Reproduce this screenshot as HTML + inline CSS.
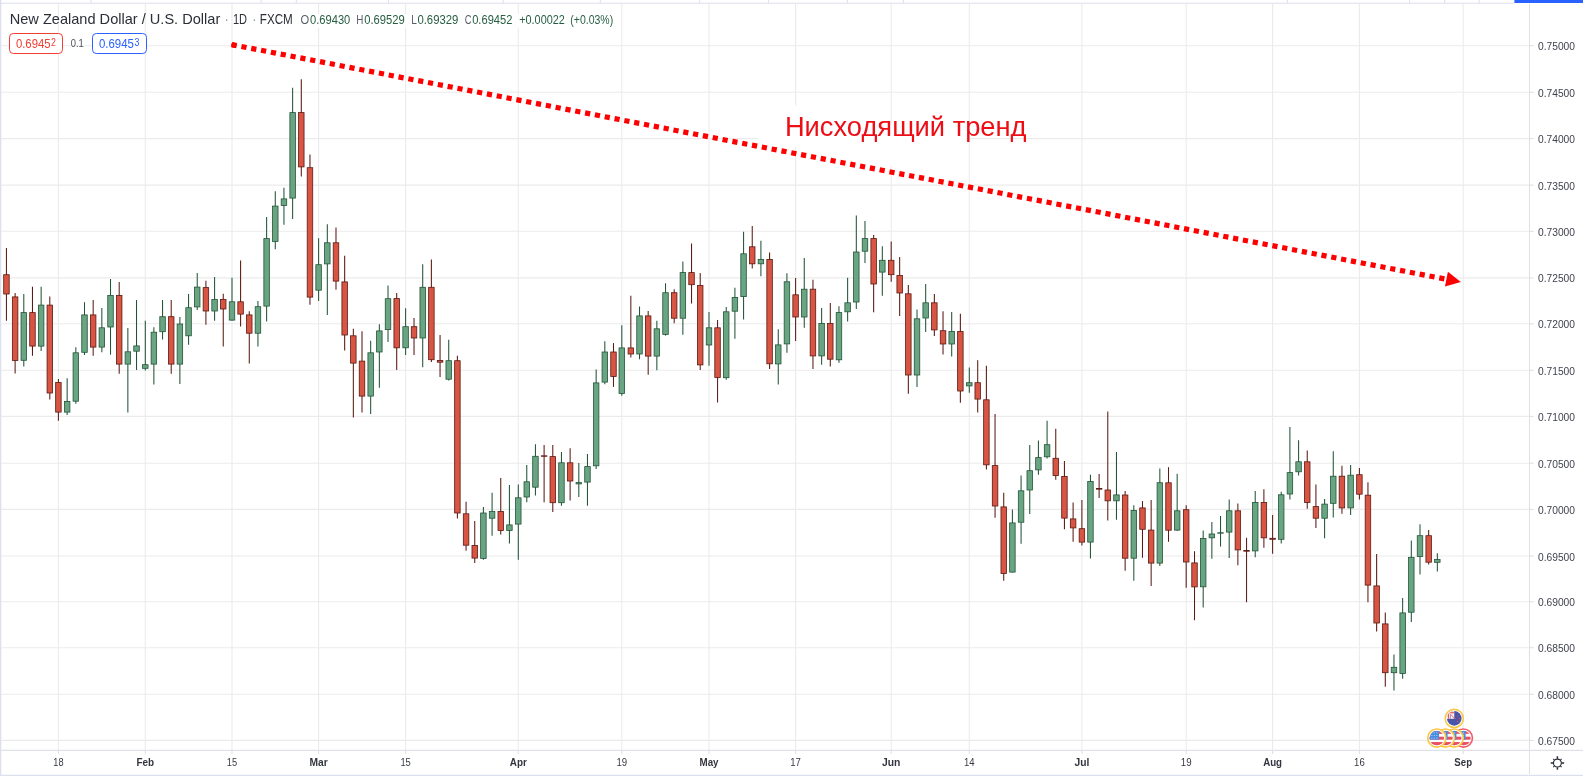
<!DOCTYPE html>
<html lang="ru"><head><meta charset="utf-8"><title>NZDUSD</title>
<style>html,body{margin:0;padding:0;background:#fff}body{width:1583px;height:776px;overflow:hidden;position:relative}svg{position:absolute;left:0;top:0;display:block}text{font-family:'Liberation Sans', sans-serif;white-space:pre}</style>
</head><body>
<svg width="1583" height="776" viewBox="0 0 1583 776">
<defs><filter id="soft" x="0" y="0" width="1583" height="776" filterUnits="userSpaceOnUse"><feGaussianBlur stdDeviation="0.38"/></filter></defs>
<rect width="1583" height="776" fill="#fff"/>
<g filter="url(#soft)">
<g stroke="#ebebed" stroke-width="1.1" fill="none"><line x1="58.40" y1="3.5" x2="58.40" y2="750.4"/><line x1="145.30" y1="3.5" x2="145.30" y2="750.4"/><line x1="232.00" y1="3.5" x2="232.00" y2="750.4"/><line x1="318.60" y1="3.5" x2="318.60" y2="750.4"/><line x1="405.60" y1="3.5" x2="405.60" y2="750.4"/><line x1="518.30" y1="3.5" x2="518.30" y2="750.4"/><line x1="621.80" y1="3.5" x2="621.80" y2="750.4"/><line x1="709.00" y1="3.5" x2="709.00" y2="750.4"/><line x1="795.60" y1="3.5" x2="795.60" y2="750.4"/><line x1="891.20" y1="3.5" x2="891.20" y2="750.4"/><line x1="969.30" y1="3.5" x2="969.30" y2="750.4"/><line x1="1081.90" y1="3.5" x2="1081.90" y2="750.4"/><line x1="1186.20" y1="3.5" x2="1186.20" y2="750.4"/><line x1="1272.60" y1="3.5" x2="1272.60" y2="750.4"/><line x1="1359.40" y1="3.5" x2="1359.40" y2="750.4"/><line x1="1463.20" y1="3.5" x2="1463.20" y2="750.4"/><line x1="1.5" y1="45.70" x2="1529.5" y2="45.70"/><line x1="1.5" y1="92.30" x2="1529.5" y2="92.30"/><line x1="1.5" y1="138.60" x2="1529.5" y2="138.60"/><line x1="1.5" y1="185.10" x2="1529.5" y2="185.10"/><line x1="1.5" y1="231.30" x2="1529.5" y2="231.30"/><line x1="1.5" y1="277.90" x2="1529.5" y2="277.90"/><line x1="1.5" y1="323.80" x2="1529.5" y2="323.80"/><line x1="1.5" y1="370.20" x2="1529.5" y2="370.20"/><line x1="1.5" y1="416.40" x2="1529.5" y2="416.40"/><line x1="1.5" y1="463.20" x2="1529.5" y2="463.20"/><line x1="1.5" y1="509.40" x2="1529.5" y2="509.40"/><line x1="1.5" y1="556.00" x2="1529.5" y2="556.00"/><line x1="1.5" y1="601.80" x2="1529.5" y2="601.80"/><line x1="1.5" y1="647.70" x2="1529.5" y2="647.70"/><line x1="1.5" y1="694.30" x2="1529.5" y2="694.30"/><line x1="1.5" y1="740.40" x2="1529.5" y2="740.40"/></g>
<polygon points="765.4,99.8 966,138.2 958.3,178.2 757.7,139.8" fill="#fff"/>
<g stroke="#e0e1e6" stroke-width="1.1" fill="none"><line x1="1529.5" y1="3.5" x2="1529.5" y2="774.5"/><line x1="1" y1="750.4" x2="1583" y2="750.4"/><line x1="1529.5" y1="45.70" x2="1533.7" y2="45.70"/><line x1="1529.5" y1="92.30" x2="1533.7" y2="92.30"/><line x1="1529.5" y1="138.60" x2="1533.7" y2="138.60"/><line x1="1529.5" y1="185.10" x2="1533.7" y2="185.10"/><line x1="1529.5" y1="231.30" x2="1533.7" y2="231.30"/><line x1="1529.5" y1="277.90" x2="1533.7" y2="277.90"/><line x1="1529.5" y1="323.80" x2="1533.7" y2="323.80"/><line x1="1529.5" y1="370.20" x2="1533.7" y2="370.20"/><line x1="1529.5" y1="416.40" x2="1533.7" y2="416.40"/><line x1="1529.5" y1="463.20" x2="1533.7" y2="463.20"/><line x1="1529.5" y1="509.40" x2="1533.7" y2="509.40"/><line x1="1529.5" y1="556.00" x2="1533.7" y2="556.00"/><line x1="1529.5" y1="601.80" x2="1533.7" y2="601.80"/><line x1="1529.5" y1="647.70" x2="1533.7" y2="647.70"/><line x1="1529.5" y1="694.30" x2="1533.7" y2="694.30"/><line x1="1529.5" y1="740.40" x2="1533.7" y2="740.40"/><line x1="58.40" y1="750.4" x2="58.40" y2="754.0"/><line x1="145.30" y1="750.4" x2="145.30" y2="754.0"/><line x1="232.00" y1="750.4" x2="232.00" y2="754.0"/><line x1="318.60" y1="750.4" x2="318.60" y2="754.0"/><line x1="405.60" y1="750.4" x2="405.60" y2="754.0"/><line x1="518.30" y1="750.4" x2="518.30" y2="754.0"/><line x1="621.80" y1="750.4" x2="621.80" y2="754.0"/><line x1="709.00" y1="750.4" x2="709.00" y2="754.0"/><line x1="795.60" y1="750.4" x2="795.60" y2="754.0"/><line x1="891.20" y1="750.4" x2="891.20" y2="754.0"/><line x1="969.30" y1="750.4" x2="969.30" y2="754.0"/><line x1="1081.90" y1="750.4" x2="1081.90" y2="754.0"/><line x1="1186.20" y1="750.4" x2="1186.20" y2="754.0"/><line x1="1272.60" y1="750.4" x2="1272.60" y2="754.0"/><line x1="1359.40" y1="750.4" x2="1359.40" y2="754.0"/><line x1="1463.20" y1="750.4" x2="1463.20" y2="754.0"/></g>
<g stroke="#225437" stroke-width="1.05"><line x1="23.79" y1="293.9" x2="23.79" y2="366.6"/><line x1="41.14" y1="286.7" x2="41.14" y2="351.1"/><line x1="67.15" y1="378.2" x2="67.15" y2="415.0"/><line x1="75.83" y1="347.3" x2="75.83" y2="403.7"/><line x1="84.50" y1="302.2" x2="84.50" y2="355.0"/><line x1="101.84" y1="308.1" x2="101.84" y2="352.2"/><line x1="110.51" y1="279.0" x2="110.51" y2="354.7"/><line x1="127.86" y1="327.9" x2="127.86" y2="412.5"/><line x1="136.53" y1="300.1" x2="136.53" y2="370.0"/><line x1="145.30" y1="320.7" x2="145.30" y2="370.5"/><line x1="153.87" y1="327.2" x2="153.87" y2="384.6"/><line x1="162.55" y1="300.1" x2="162.55" y2="339.5"/><line x1="179.89" y1="317.1" x2="179.89" y2="383.9"/><line x1="188.56" y1="293.9" x2="188.56" y2="344.7"/><line x1="197.23" y1="273.0" x2="197.23" y2="309.9"/><line x1="214.58" y1="276.9" x2="214.58" y2="320.7"/><line x1="232.00" y1="277.7" x2="232.00" y2="320.7"/><line x1="257.94" y1="300.9" x2="257.94" y2="346.5"/><line x1="266.61" y1="217.1" x2="266.61" y2="321.5"/><line x1="275.28" y1="191.3" x2="275.28" y2="249.3"/><line x1="283.95" y1="187.7" x2="283.95" y2="224.8"/><line x1="292.63" y1="87.7" x2="292.63" y2="218.9"/><line x1="318.60" y1="238.2" x2="318.60" y2="300.9"/><line x1="327.31" y1="224.3" x2="327.31" y2="315.0"/><line x1="370.67" y1="340.8" x2="370.67" y2="414.0"/><line x1="379.35" y1="324.3" x2="379.35" y2="387.7"/><line x1="388.02" y1="285.4" x2="388.02" y2="341.9"/><line x1="405.60" y1="308.2" x2="405.60" y2="354.9"/><line x1="422.71" y1="264.2" x2="422.71" y2="367.3"/><line x1="448.72" y1="339.7" x2="448.72" y2="380.4"/><line x1="483.41" y1="507.0" x2="483.41" y2="559.8"/><line x1="492.08" y1="492.8" x2="492.08" y2="535.8"/><line x1="509.43" y1="485.0" x2="509.43" y2="543.6"/><line x1="518.30" y1="484.5" x2="518.30" y2="559.8"/><line x1="526.77" y1="464.9" x2="526.77" y2="502.3"/><line x1="535.44" y1="444.3" x2="535.44" y2="495.4"/><line x1="561.46" y1="452.1" x2="561.46" y2="505.7"/><line x1="578.80" y1="463.1" x2="578.80" y2="496.9"/><line x1="587.47" y1="454.1" x2="587.47" y2="505.7"/><line x1="596.15" y1="369.6" x2="596.15" y2="469.1"/><line x1="604.82" y1="341.3" x2="604.82" y2="384.3"/><line x1="621.80" y1="325.3" x2="621.80" y2="395.7"/><line x1="639.51" y1="306.5" x2="639.51" y2="359.3"/><line x1="656.85" y1="320.7" x2="656.85" y2="370.2"/><line x1="665.52" y1="283.3" x2="665.52" y2="335.6"/><line x1="682.87" y1="261.4" x2="682.87" y2="334.8"/><line x1="709.00" y1="311.9" x2="709.00" y2="365.8"/><line x1="726.23" y1="307.0" x2="726.23" y2="379.7"/><line x1="734.90" y1="287.7" x2="734.90" y2="338.7"/><line x1="743.57" y1="231.8" x2="743.57" y2="319.6"/><line x1="760.91" y1="240.8" x2="760.91" y2="276.3"/><line x1="778.26" y1="329.2" x2="778.26" y2="384.6"/><line x1="786.93" y1="273.3" x2="786.93" y2="352.8"/><line x1="804.27" y1="258.1" x2="804.27" y2="327.7"/><line x1="821.62" y1="308.1" x2="821.62" y2="364.8"/><line x1="838.96" y1="306.3" x2="838.96" y2="362.7"/><line x1="847.63" y1="277.7" x2="847.63" y2="321.5"/><line x1="856.31" y1="215.6" x2="856.31" y2="308.9"/><line x1="864.98" y1="221.0" x2="864.98" y2="263.0"/><line x1="882.32" y1="246.2" x2="882.32" y2="295.7"/><line x1="917.01" y1="309.4" x2="917.01" y2="387.0"/><line x1="925.68" y1="284.1" x2="925.68" y2="332.1"/><line x1="951.70" y1="312.0" x2="951.70" y2="356.5"/><line x1="969.30" y1="367.5" x2="969.30" y2="392.7"/><line x1="1012.40" y1="509.6" x2="1012.40" y2="572.5"/><line x1="1021.07" y1="475.5" x2="1021.07" y2="543.8"/><line x1="1029.75" y1="445.1" x2="1029.75" y2="514.1"/><line x1="1038.42" y1="440.4" x2="1038.42" y2="474.7"/><line x1="1047.09" y1="420.8" x2="1047.09" y2="458.5"/><line x1="1090.45" y1="474.7" x2="1090.45" y2="558.5"/><line x1="1116.47" y1="452.0" x2="1116.47" y2="519.8"/><line x1="1133.81" y1="505.2" x2="1133.81" y2="580.7"/><line x1="1159.83" y1="468.4" x2="1159.83" y2="566.1"/><line x1="1177.17" y1="473.8" x2="1177.17" y2="531.0"/><line x1="1203.19" y1="530.5" x2="1203.19" y2="607.6"/><line x1="1211.86" y1="522.0" x2="1211.86" y2="558.8"/><line x1="1220.53" y1="516.0" x2="1220.53" y2="546.4"/><line x1="1229.20" y1="499.5" x2="1229.20" y2="558.0"/><line x1="1255.22" y1="491.0" x2="1255.22" y2="557.3"/><line x1="1281.23" y1="491.8" x2="1281.23" y2="543.4"/><line x1="1289.91" y1="426.9" x2="1289.91" y2="499.5"/><line x1="1298.58" y1="440.3" x2="1298.58" y2="475.6"/><line x1="1324.59" y1="499.0" x2="1324.59" y2="538.2"/><line x1="1333.27" y1="451.3" x2="1333.27" y2="517.6"/><line x1="1350.61" y1="465.0" x2="1350.61" y2="515.0"/><line x1="1393.97" y1="654.6" x2="1393.97" y2="690.6"/><line x1="1402.64" y1="597.9" x2="1402.64" y2="678.8"/><line x1="1411.31" y1="540.4" x2="1411.31" y2="621.9"/><line x1="1419.99" y1="524.2" x2="1419.99" y2="574.4"/><line x1="1437.33" y1="553.3" x2="1437.33" y2="571.6"/></g>
<g stroke="#5b1a13" stroke-width="1.05"><line x1="6.45" y1="248.0" x2="6.45" y2="320.7"/><line x1="15.12" y1="293.1" x2="15.12" y2="373.6"/><line x1="32.47" y1="286.7" x2="32.47" y2="355.8"/><line x1="49.81" y1="296.5" x2="49.81" y2="399.6"/><line x1="58.40" y1="379.0" x2="58.40" y2="420.7"/><line x1="93.17" y1="300.1" x2="93.17" y2="355.8"/><line x1="119.19" y1="282.1" x2="119.19" y2="373.8"/><line x1="171.22" y1="300.1" x2="171.22" y2="373.8"/><line x1="205.91" y1="280.8" x2="205.91" y2="324.8"/><line x1="223.25" y1="293.7" x2="223.25" y2="346.5"/><line x1="240.59" y1="260.4" x2="240.59" y2="326.6"/><line x1="249.27" y1="311.2" x2="249.27" y2="363.5"/><line x1="301.30" y1="79.2" x2="301.30" y2="176.6"/><line x1="309.97" y1="154.4" x2="309.97" y2="304.7"/><line x1="335.99" y1="227.4" x2="335.99" y2="289.8"/><line x1="344.66" y1="255.8" x2="344.66" y2="350.4"/><line x1="353.33" y1="328.7" x2="353.33" y2="417.6"/><line x1="362.00" y1="331.3" x2="362.00" y2="412.5"/><line x1="396.69" y1="293.0" x2="396.69" y2="370.1"/><line x1="414.03" y1="318.0" x2="414.03" y2="354.9"/><line x1="431.38" y1="259.5" x2="431.38" y2="361.9"/><line x1="440.05" y1="335.1" x2="440.05" y2="377.1"/><line x1="457.39" y1="355.7" x2="457.39" y2="518.6"/><line x1="466.07" y1="501.8" x2="466.07" y2="550.8"/><line x1="474.74" y1="521.1" x2="474.74" y2="562.9"/><line x1="500.75" y1="478.1" x2="500.75" y2="534.5"/><line x1="544.11" y1="445.1" x2="544.11" y2="502.3"/><line x1="552.79" y1="445.1" x2="552.79" y2="512.1"/><line x1="570.13" y1="448.2" x2="570.13" y2="500.5"/><line x1="613.49" y1="343.1" x2="613.49" y2="386.9"/><line x1="630.83" y1="295.7" x2="630.83" y2="357.5"/><line x1="648.18" y1="311.1" x2="648.18" y2="374.8"/><line x1="674.19" y1="289.2" x2="674.19" y2="323.2"/><line x1="691.54" y1="243.4" x2="691.54" y2="303.4"/><line x1="700.21" y1="273.0" x2="700.21" y2="369.9"/><line x1="717.55" y1="319.9" x2="717.55" y2="402.4"/><line x1="752.24" y1="226.1" x2="752.24" y2="268.6"/><line x1="769.59" y1="252.4" x2="769.59" y2="369.1"/><line x1="795.60" y1="277.9" x2="795.60" y2="341.1"/><line x1="812.95" y1="279.7" x2="812.95" y2="368.9"/><line x1="830.29" y1="302.9" x2="830.29" y2="366.6"/><line x1="873.65" y1="234.9" x2="873.65" y2="312.2"/><line x1="891.20" y1="241.6" x2="891.20" y2="281.8"/><line x1="899.67" y1="257.1" x2="899.67" y2="316.1"/><line x1="908.34" y1="284.9" x2="908.34" y2="393.7"/><line x1="934.35" y1="293.9" x2="934.35" y2="335.9"/><line x1="943.03" y1="311.2" x2="943.03" y2="354.5"/><line x1="960.37" y1="313.8" x2="960.37" y2="402.7"/><line x1="977.71" y1="360.3" x2="977.71" y2="412.4"/><line x1="986.39" y1="365.8" x2="986.39" y2="469.5"/><line x1="995.06" y1="414.1" x2="995.06" y2="517.7"/><line x1="1003.73" y1="492.8" x2="1003.73" y2="580.7"/><line x1="1055.76" y1="428.8" x2="1055.76" y2="479.8"/><line x1="1064.43" y1="461.0" x2="1064.43" y2="529.3"/><line x1="1073.11" y1="502.5" x2="1073.11" y2="541.7"/><line x1="1081.90" y1="499.9" x2="1081.90" y2="545.6"/><line x1="1099.12" y1="473.9" x2="1099.12" y2="497.9"/><line x1="1107.79" y1="411.5" x2="1107.79" y2="520.6"/><line x1="1125.14" y1="491.0" x2="1125.14" y2="570.7"/><line x1="1142.48" y1="501.1" x2="1142.48" y2="557.8"/><line x1="1151.15" y1="500.0" x2="1151.15" y2="586.0"/><line x1="1168.50" y1="467.2" x2="1168.50" y2="541.8"/><line x1="1186.20" y1="505.2" x2="1186.20" y2="587.7"/><line x1="1194.51" y1="551.2" x2="1194.51" y2="620.2"/><line x1="1237.87" y1="503.4" x2="1237.87" y2="565.3"/><line x1="1246.55" y1="537.7" x2="1246.55" y2="602.3"/><line x1="1263.89" y1="489.2" x2="1263.89" y2="547.7"/><line x1="1272.60" y1="515.0" x2="1272.60" y2="553.7"/><line x1="1307.25" y1="450.6" x2="1307.25" y2="508.8"/><line x1="1315.92" y1="484.6" x2="1315.92" y2="527.9"/><line x1="1341.94" y1="465.8" x2="1341.94" y2="513.7"/><line x1="1359.40" y1="468.0" x2="1359.40" y2="499.4"/><line x1="1367.95" y1="482.2" x2="1367.95" y2="602.3"/><line x1="1376.63" y1="554.1" x2="1376.63" y2="631.6"/><line x1="1385.30" y1="612.4" x2="1385.30" y2="686.8"/><line x1="1428.66" y1="530.1" x2="1428.66" y2="564.6"/></g>
<g fill="#6ba583" stroke="#225437" stroke-width="0.8"><rect x="21.04" y="312.6" width="5.5" height="47.7"/><rect x="38.39" y="305.1" width="5.5" height="41.0"/><rect x="64.40" y="401.5" width="5.5" height="10.6"/><rect x="73.08" y="352.8" width="5.5" height="48.4"/><rect x="81.75" y="314.9" width="5.5" height="37.4"/><rect x="99.09" y="327.8" width="5.5" height="19.3"/><rect x="107.76" y="295.4" width="5.5" height="31.6"/><rect x="125.11" y="351.8" width="5.5" height="12.3"/><rect x="133.78" y="345.9" width="5.5" height="5.3"/><rect x="142.55" y="364.7" width="5.5" height="3.6"/><rect x="151.12" y="332.2" width="5.5" height="31.9"/><rect x="159.80" y="316.7" width="5.5" height="15.0"/><rect x="177.14" y="324.0" width="5.5" height="40.1"/><rect x="185.81" y="307.7" width="5.5" height="28.1"/><rect x="194.48" y="287.1" width="5.5" height="19.8"/><rect x="211.83" y="299.5" width="5.5" height="11.5"/><rect x="229.25" y="301.8" width="5.5" height="18.3"/><rect x="255.19" y="306.7" width="5.5" height="26.5"/><rect x="263.86" y="238.6" width="5.5" height="67.5"/><rect x="272.53" y="206.1" width="5.5" height="35.3"/><rect x="281.20" y="198.9" width="5.5" height="6.7"/><rect x="289.88" y="112.6" width="5.5" height="85.5"/><rect x="315.85" y="264.7" width="5.5" height="25.5"/><rect x="324.56" y="242.8" width="5.5" height="21.1"/><rect x="367.92" y="352.8" width="5.5" height="43.3"/><rect x="376.60" y="330.9" width="5.5" height="21.1"/><rect x="385.27" y="298.7" width="5.5" height="30.9"/><rect x="402.85" y="326.7" width="5.5" height="21.1"/><rect x="419.96" y="287.3" width="5.5" height="50.7"/><rect x="445.97" y="360.7" width="5.5" height="18.5"/><rect x="480.66" y="513.0" width="5.5" height="45.4"/><rect x="489.33" y="511.5" width="5.5" height="6.7"/><rect x="506.68" y="524.9" width="5.5" height="5.6"/><rect x="515.55" y="497.8" width="5.5" height="26.3"/><rect x="524.02" y="481.8" width="5.5" height="15.2"/><rect x="532.69" y="456.3" width="5.5" height="30.9"/><rect x="558.71" y="462.8" width="5.5" height="39.9"/><rect x="576.05" y="482.6" width="5.5" height="1.3"/><rect x="584.72" y="466.6" width="5.5" height="15.5"/><rect x="593.40" y="382.9" width="5.5" height="82.9"/><rect x="602.07" y="352.0" width="5.5" height="30.1"/><rect x="619.05" y="347.9" width="5.5" height="45.6"/><rect x="636.76" y="315.9" width="5.5" height="38.1"/><rect x="654.10" y="328.8" width="5.5" height="27.3"/><rect x="662.77" y="292.7" width="5.5" height="41.7"/><rect x="680.12" y="272.6" width="5.5" height="45.6"/><rect x="706.25" y="327.8" width="5.5" height="17.2"/><rect x="723.48" y="311.8" width="5.5" height="65.9"/><rect x="732.15" y="297.4" width="5.5" height="13.8"/><rect x="740.82" y="253.8" width="5.5" height="42.8"/><rect x="758.16" y="259.5" width="5.5" height="4.3"/><rect x="775.51" y="344.9" width="5.5" height="19.0"/><rect x="784.18" y="281.8" width="5.5" height="62.1"/><rect x="801.52" y="289.2" width="5.5" height="27.8"/><rect x="818.87" y="323.4" width="5.5" height="32.5"/><rect x="836.21" y="312.6" width="5.5" height="47.2"/><rect x="844.88" y="302.8" width="5.5" height="9.0"/><rect x="853.56" y="252.0" width="5.5" height="50.0"/><rect x="862.23" y="238.6" width="5.5" height="12.6"/><rect x="879.57" y="260.3" width="5.5" height="11.8"/><rect x="914.26" y="318.8" width="5.5" height="56.2"/><rect x="922.93" y="302.8" width="5.5" height="15.2"/><rect x="948.95" y="331.4" width="5.5" height="12.6"/><rect x="966.55" y="382.7" width="5.5" height="3.2"/><rect x="1009.65" y="522.9" width="5.5" height="49.2"/><rect x="1018.32" y="490.8" width="5.5" height="31.4"/><rect x="1027.00" y="470.7" width="5.5" height="19.3"/><rect x="1035.67" y="457.6" width="5.5" height="12.3"/><rect x="1044.34" y="444.7" width="5.5" height="12.1"/><rect x="1087.70" y="481.5" width="5.5" height="60.6"/><rect x="1113.72" y="494.9" width="5.5" height="5.9"/><rect x="1131.06" y="510.5" width="5.5" height="47.7"/><rect x="1157.08" y="482.7" width="5.5" height="80.4"/><rect x="1174.42" y="510.8" width="5.5" height="19.3"/><rect x="1200.44" y="538.6" width="5.5" height="48.2"/><rect x="1209.11" y="534.0" width="5.5" height="3.8"/><rect x="1217.78" y="532.7" width="5.5" height="0.5"/><rect x="1226.45" y="510.8" width="5.5" height="21.3"/><rect x="1252.47" y="502.5" width="5.5" height="48.4"/><rect x="1278.48" y="494.8" width="5.5" height="44.5"/><rect x="1287.16" y="472.6" width="5.5" height="21.4"/><rect x="1295.83" y="461.8" width="5.5" height="10.0"/><rect x="1321.84" y="504.1" width="5.5" height="14.1"/><rect x="1330.52" y="476.2" width="5.5" height="27.1"/><rect x="1347.86" y="475.2" width="5.5" height="32.7"/><rect x="1391.22" y="667.3" width="5.5" height="5.4"/><rect x="1399.89" y="612.9" width="5.5" height="60.6"/><rect x="1408.56" y="557.3" width="5.5" height="54.9"/><rect x="1417.24" y="535.7" width="5.5" height="20.8"/><rect x="1434.58" y="559.6" width="5.5" height="2.7"/></g>
<g fill="#d75442" stroke="#5b1a13" stroke-width="0.8"><rect x="3.70" y="274.7" width="5.5" height="19.3"/><rect x="12.37" y="296.9" width="5.5" height="63.6"/><rect x="29.72" y="312.6" width="5.5" height="33.5"/><rect x="47.06" y="305.1" width="5.5" height="87.9"/><rect x="55.65" y="382.5" width="5.5" height="29.6"/><rect x="90.42" y="314.9" width="5.5" height="32.2"/><rect x="116.44" y="295.4" width="5.5" height="68.7"/><rect x="168.47" y="316.7" width="5.5" height="47.4"/><rect x="203.16" y="287.6" width="5.5" height="23.4"/><rect x="220.50" y="299.5" width="5.5" height="9.5"/><rect x="237.84" y="301.8" width="5.5" height="12.3"/><rect x="246.52" y="314.9" width="5.5" height="18.3"/><rect x="298.55" y="112.6" width="5.5" height="54.3"/><rect x="307.22" y="167.7" width="5.5" height="129.4"/><rect x="333.24" y="242.8" width="5.5" height="38.3"/><rect x="341.91" y="281.9" width="5.5" height="53.1"/><rect x="350.58" y="335.8" width="5.5" height="27.3"/><rect x="359.25" y="361.1" width="5.5" height="35.0"/><rect x="393.94" y="298.6" width="5.5" height="49.2"/><rect x="411.28" y="326.7" width="5.5" height="11.3"/><rect x="428.63" y="287.3" width="5.5" height="72.4"/><rect x="437.30" y="360.5" width="5.5" height="1.7"/><rect x="454.64" y="360.7" width="5.5" height="152.3"/><rect x="463.32" y="513.8" width="5.5" height="31.4"/><rect x="471.99" y="545.5" width="5.5" height="12.6"/><rect x="498.00" y="511.5" width="5.5" height="19.0"/><rect x="541.36" y="455.8" width="5.5" height="0.5"/><rect x="550.04" y="456.6" width="5.5" height="46.1"/><rect x="567.38" y="462.8" width="5.5" height="18.2"/><rect x="610.74" y="352.0" width="5.5" height="24.5"/><rect x="628.08" y="347.9" width="5.5" height="6.1"/><rect x="645.43" y="315.9" width="5.5" height="40.2"/><rect x="671.44" y="292.7" width="5.5" height="25.5"/><rect x="688.79" y="272.6" width="5.5" height="12.1"/><rect x="697.46" y="285.5" width="5.5" height="79.4"/><rect x="714.80" y="327.8" width="5.5" height="49.7"/><rect x="749.49" y="246.8" width="5.5" height="17.0"/><rect x="766.84" y="259.5" width="5.5" height="104.3"/><rect x="792.85" y="294.8" width="5.5" height="22.2"/><rect x="810.20" y="289.2" width="5.5" height="66.7"/><rect x="827.54" y="323.4" width="5.5" height="35.8"/><rect x="870.90" y="238.6" width="5.5" height="45.4"/><rect x="888.45" y="260.3" width="5.5" height="14.4"/><rect x="896.92" y="275.5" width="5.5" height="17.5"/><rect x="905.59" y="293.8" width="5.5" height="81.2"/><rect x="931.60" y="302.8" width="5.5" height="27.1"/><rect x="940.28" y="330.7" width="5.5" height="13.3"/><rect x="957.62" y="331.4" width="5.5" height="59.6"/><rect x="974.96" y="382.7" width="5.5" height="16.4"/><rect x="983.64" y="399.8" width="5.5" height="65.0"/><rect x="992.31" y="465.6" width="5.5" height="40.4"/><rect x="1000.98" y="506.9" width="5.5" height="66.7"/><rect x="1053.01" y="458.3" width="5.5" height="17.3"/><rect x="1061.68" y="476.4" width="5.5" height="41.7"/><rect x="1070.36" y="518.9" width="5.5" height="9.0"/><rect x="1079.15" y="528.7" width="5.5" height="13.4"/><rect x="1096.37" y="488.5" width="5.5" height="0.7"/><rect x="1105.04" y="490.0" width="5.5" height="10.8"/><rect x="1122.39" y="495.0" width="5.5" height="63.2"/><rect x="1139.73" y="507.9" width="5.5" height="21.4"/><rect x="1148.40" y="530.1" width="5.5" height="33.0"/><rect x="1165.75" y="482.8" width="5.5" height="47.4"/><rect x="1183.45" y="509.7" width="5.5" height="52.3"/><rect x="1191.76" y="562.9" width="5.5" height="24.0"/><rect x="1235.12" y="510.8" width="5.5" height="39.1"/><rect x="1243.80" y="550.5" width="5.5" height="0.7"/><rect x="1261.14" y="502.5" width="5.5" height="35.3"/><rect x="1269.85" y="538.3" width="5.5" height="1.0"/><rect x="1304.50" y="461.8" width="5.5" height="40.7"/><rect x="1313.17" y="506.6" width="5.5" height="11.6"/><rect x="1339.19" y="476.2" width="5.5" height="31.7"/><rect x="1356.65" y="474.7" width="5.5" height="19.5"/><rect x="1365.20" y="495.2" width="5.5" height="89.9"/><rect x="1373.88" y="585.9" width="5.5" height="37.1"/><rect x="1382.55" y="623.9" width="5.5" height="48.8"/><rect x="1425.91" y="535.7" width="5.5" height="26.5"/></g>
<line x1="231.6" y1="44.6" x2="1446.5" y2="279.32" stroke="#ff0000" stroke-width="5.2" stroke-dasharray="5.2 4.8" stroke-dashoffset="0"/>
<circle cx="233.79999999999998" cy="45.050000000000004" r="2.6" fill="#ff0000"/>
<polygon points="1447.9,271.7 1445.0,286.5 1460.8,281.9" fill="#ff0000"/>
<text x="784.9" y="135.9" font-size="27.3" fill="#ec1016">Нисходящий тренд</text>
<g font-size="11.6" fill="#40434d"><text x="1538" y="50.20" textLength="37" lengthAdjust="spacingAndGlyphs">0.75000</text><text x="1538" y="96.80" textLength="37" lengthAdjust="spacingAndGlyphs">0.74500</text><text x="1538" y="143.10" textLength="37" lengthAdjust="spacingAndGlyphs">0.74000</text><text x="1538" y="189.60" textLength="37" lengthAdjust="spacingAndGlyphs">0.73500</text><text x="1538" y="235.80" textLength="37" lengthAdjust="spacingAndGlyphs">0.73000</text><text x="1538" y="282.40" textLength="37" lengthAdjust="spacingAndGlyphs">0.72500</text><text x="1538" y="328.30" textLength="37" lengthAdjust="spacingAndGlyphs">0.72000</text><text x="1538" y="374.70" textLength="37" lengthAdjust="spacingAndGlyphs">0.71500</text><text x="1538" y="420.90" textLength="37" lengthAdjust="spacingAndGlyphs">0.71000</text><text x="1538" y="467.70" textLength="37" lengthAdjust="spacingAndGlyphs">0.70500</text><text x="1538" y="513.90" textLength="37" lengthAdjust="spacingAndGlyphs">0.70000</text><text x="1538" y="560.50" textLength="37" lengthAdjust="spacingAndGlyphs">0.69500</text><text x="1538" y="606.30" textLength="37" lengthAdjust="spacingAndGlyphs">0.69000</text><text x="1538" y="652.20" textLength="37" lengthAdjust="spacingAndGlyphs">0.68500</text><text x="1538" y="698.80" textLength="37" lengthAdjust="spacingAndGlyphs">0.68000</text><text x="1538" y="744.90" textLength="37" lengthAdjust="spacingAndGlyphs">0.67500</text></g>
<g font-size="11.2" fill="#363943"><text x="53.30" y="766.1" textLength="10.2" lengthAdjust="spacingAndGlyphs">18</text><text x="136.45" y="766.1" font-weight="bold" fill="#33363f" textLength="17.7" lengthAdjust="spacingAndGlyphs">Feb</text><text x="226.85" y="766.1" textLength="10.3" lengthAdjust="spacingAndGlyphs">15</text><text x="309.50" y="766.1" font-weight="bold" fill="#33363f" textLength="18.2" lengthAdjust="spacingAndGlyphs">Mar</text><text x="400.40" y="766.1" textLength="10.4" lengthAdjust="spacingAndGlyphs">15</text><text x="509.75" y="766.1" font-weight="bold" fill="#33363f" textLength="17.1" lengthAdjust="spacingAndGlyphs">Apr</text><text x="616.45" y="766.1" textLength="10.7" lengthAdjust="spacingAndGlyphs">19</text><text x="699.50" y="766.1" font-weight="bold" fill="#33363f" textLength="19.0" lengthAdjust="spacingAndGlyphs">May</text><text x="790.25" y="766.1" textLength="10.7" lengthAdjust="spacingAndGlyphs">17</text><text x="882.00" y="766.1" font-weight="bold" fill="#33363f" textLength="18.4" lengthAdjust="spacingAndGlyphs">Jun</text><text x="964.00" y="766.1" textLength="10.6" lengthAdjust="spacingAndGlyphs">14</text><text x="1074.45" y="766.1" font-weight="bold" fill="#33363f" textLength="14.9" lengthAdjust="spacingAndGlyphs">Jul</text><text x="1180.80" y="766.1" textLength="10.8" lengthAdjust="spacingAndGlyphs">19</text><text x="1263.15" y="766.1" font-weight="bold" fill="#33363f" textLength="18.9" lengthAdjust="spacingAndGlyphs">Aug</text><text x="1354.10" y="766.1" textLength="10.6" lengthAdjust="spacingAndGlyphs">16</text><text x="1454.35" y="766.1" font-weight="bold" fill="#33363f" textLength="17.7" lengthAdjust="spacingAndGlyphs">Sep</text></g>
<g id="hdr">
<text x="9.7" y="23.9" font-size="14.2" fill="#2c2f38" textLength="210.6" lengthAdjust="spacingAndGlyphs">New Zealand Dollar / U.S. Dollar</text>
<text x="224.3" y="23.9" font-size="14.2" fill="#9a9da6">·</text>
<text x="232.9" y="23.9" font-size="14.2" fill="#2c2f38" textLength="14.1" lengthAdjust="spacingAndGlyphs">1D</text>
<text x="251.9" y="23.9" font-size="14.2" fill="#9a9da6">·</text>
<text x="259.8" y="23.9" font-size="14.2" fill="#2c2f38" textLength="32.9" lengthAdjust="spacingAndGlyphs">FXCM</text>
<rect x="298" y="14" width="318" height="13.5" fill="#fff"/>
<text x="300.5" y="24.0" font-size="12.3" fill="#5a5d68" textLength="8.7" lengthAdjust="spacingAndGlyphs">O</text>
<text x="310.0" y="24.0" font-size="12.3" fill="#255e3f" textLength="40.3" lengthAdjust="spacingAndGlyphs">0.69430</text>
<text x="356.2" y="24.0" font-size="12.3" fill="#5a5d68" textLength="7.1" lengthAdjust="spacingAndGlyphs">H</text>
<text x="364.2" y="24.0" font-size="12.3" fill="#255e3f" textLength="40.5" lengthAdjust="spacingAndGlyphs">0.69529</text>
<text x="411.3" y="24.0" font-size="12.3" fill="#5a5d68" textLength="5.6" lengthAdjust="spacingAndGlyphs">L</text>
<text x="417.4" y="24.0" font-size="12.3" fill="#255e3f" textLength="41.0" lengthAdjust="spacingAndGlyphs">0.69329</text>
<text x="464.8" y="24.0" font-size="12.3" fill="#5a5d68" textLength="6.8" lengthAdjust="spacingAndGlyphs">C</text>
<text x="472.2" y="24.0" font-size="12.3" fill="#255e3f" textLength="40.2" lengthAdjust="spacingAndGlyphs">0.69452</text>
<text x="519.2" y="24.0" font-size="12.3" fill="#255e3f" textLength="45.7" lengthAdjust="spacingAndGlyphs">+0.00022</text>
<text x="570.3" y="24.0" font-size="12.3" fill="#255e3f" textLength="42.9" lengthAdjust="spacingAndGlyphs">(+0.03%)</text>
<rect x="9.5" y="33.5" width="53" height="20" rx="3.8" fill="#fff" stroke="#f23d30" stroke-width="1"/>
<text x="15.9" y="47.8" font-size="12.4" fill="#f03d33" textLength="34.7" lengthAdjust="spacingAndGlyphs">0.6945</text>
<text x="51.1" y="45.9" font-size="10.0" fill="#f03d33" textLength="4.9" lengthAdjust="spacingAndGlyphs">2</text>
<text x="70.7" y="47.1" font-size="10.0" fill="#4d505a" textLength="13.0" lengthAdjust="spacingAndGlyphs">0.1</text>
<rect x="92.5" y="33.5" width="54" height="20" rx="3.8" fill="#fff" stroke="#2962ff" stroke-width="1"/>
<text x="98.9" y="47.8" font-size="12.4" fill="#2962ff" textLength="35.0" lengthAdjust="spacingAndGlyphs">0.6945</text>
<text x="134.4" y="45.9" font-size="10.0" fill="#2962ff" textLength="4.9" lengthAdjust="spacingAndGlyphs">3</text>
</g>
<defs><clipPath id="fc"><circle cx="0" cy="0" r="7.3"/></clipPath></defs>
<g transform="translate(1463.4,738.1)"><circle r="9.05" fill="#fff" stroke="#ee5f6c" stroke-width="1.65"/><g clip-path="url(#fc)"><rect x="-8" y="-8" width="16" height="16" fill="#f8fbff"/><rect x="-8" y="-7.4" width="16" height="3.15" fill="#eb5064"/><rect x="-8" y="-1.4" width="16" height="3.0" fill="#eb5064"/><rect x="-8" y="3.95" width="16" height="3.6" fill="#eb5064"/><rect x="-8" y="-7.4" width="10.2" height="9.0" fill="#4a8de0"/><g fill="#b5d3f5"><rect x="-5.50" y="-5.80" width="1" height="1"/><rect x="-3.10" y="-5.80" width="1" height="1"/><rect x="-0.50" y="-5.80" width="1" height="1"/><rect x="-5.50" y="-3.10" width="1" height="1"/><rect x="-3.10" y="-3.10" width="1" height="1"/><rect x="-0.50" y="-3.10" width="1" height="1"/><rect x="-5.50" y="-0.40" width="1" height="1"/><rect x="-3.10" y="-0.40" width="1" height="1"/><rect x="-0.50" y="-0.40" width="1" height="1"/></g></g></g>
<g transform="translate(1454.2,738.1)"><circle r="9.05" fill="#fff" stroke="#f9c846" stroke-width="1.65"/><g clip-path="url(#fc)"><rect x="-8" y="-8" width="16" height="16" fill="#f8fbff"/><rect x="-8" y="-7.4" width="16" height="3.15" fill="#eb5064"/><rect x="-8" y="-1.4" width="16" height="3.0" fill="#eb5064"/><rect x="-8" y="3.95" width="16" height="3.6" fill="#eb5064"/><rect x="-8" y="-7.4" width="10.2" height="9.0" fill="#4a8de0"/><g fill="#b5d3f5"><rect x="-5.50" y="-5.80" width="1" height="1"/><rect x="-3.10" y="-5.80" width="1" height="1"/><rect x="-0.50" y="-5.80" width="1" height="1"/><rect x="-5.50" y="-3.10" width="1" height="1"/><rect x="-3.10" y="-3.10" width="1" height="1"/><rect x="-0.50" y="-3.10" width="1" height="1"/><rect x="-5.50" y="-0.40" width="1" height="1"/><rect x="-3.10" y="-0.40" width="1" height="1"/><rect x="-0.50" y="-0.40" width="1" height="1"/></g></g></g>
<g transform="translate(1445.4,738.1)"><circle r="9.05" fill="#fff" stroke="#f9c846" stroke-width="1.65"/><g clip-path="url(#fc)"><rect x="-8" y="-8" width="16" height="16" fill="#f8fbff"/><rect x="-8" y="-7.4" width="16" height="3.15" fill="#eb5064"/><rect x="-8" y="-1.4" width="16" height="3.0" fill="#eb5064"/><rect x="-8" y="3.95" width="16" height="3.6" fill="#eb5064"/><rect x="-8" y="-7.4" width="10.2" height="9.0" fill="#4a8de0"/><g fill="#b5d3f5"><rect x="-5.50" y="-5.80" width="1" height="1"/><rect x="-3.10" y="-5.80" width="1" height="1"/><rect x="-0.50" y="-5.80" width="1" height="1"/><rect x="-5.50" y="-3.10" width="1" height="1"/><rect x="-3.10" y="-3.10" width="1" height="1"/><rect x="-0.50" y="-3.10" width="1" height="1"/><rect x="-5.50" y="-0.40" width="1" height="1"/><rect x="-3.10" y="-0.40" width="1" height="1"/><rect x="-0.50" y="-0.40" width="1" height="1"/></g></g></g>
<g transform="translate(1436.8,738.1)"><circle r="9.05" fill="#fff" stroke="#f9c846" stroke-width="1.65"/><g clip-path="url(#fc)"><rect x="-8" y="-8" width="16" height="16" fill="#f8fbff"/><rect x="-8" y="-7.4" width="16" height="3.15" fill="#eb5064"/><rect x="-8" y="-1.4" width="16" height="3.0" fill="#eb5064"/><rect x="-8" y="3.95" width="16" height="3.6" fill="#eb5064"/><rect x="-8" y="-7.4" width="10.2" height="9.0" fill="#4a8de0"/><g fill="#b5d3f5"><rect x="-5.50" y="-5.80" width="1" height="1"/><rect x="-3.10" y="-5.80" width="1" height="1"/><rect x="-0.50" y="-5.80" width="1" height="1"/><rect x="-5.50" y="-3.10" width="1" height="1"/><rect x="-3.10" y="-3.10" width="1" height="1"/><rect x="-0.50" y="-3.10" width="1" height="1"/><rect x="-5.50" y="-0.40" width="1" height="1"/><rect x="-3.10" y="-0.40" width="1" height="1"/><rect x="-0.50" y="-0.40" width="1" height="1"/></g></g></g>
<g transform="translate(1454.25,718.4)"><circle r="9.05" fill="#fff" stroke="#f9c846" stroke-width="1.65"/><g clip-path="url(#fc)"><rect x="-8" y="-8" width="16" height="16" fill="#4656a8"/><rect x="-8" y="-8" width="8" height="8.4" fill="#fdf4f6"/><rect x="-5.1" y="-6.3" width="5.1" height="1.2" fill="#ec5565"/><rect x="-6.3" y="-4.9" width="1.2" height="5.3" fill="#ec5565"/><rect x="-4.3" y="-4.4" width="0.9" height="4.8" fill="#8d96cc"/><path d="M-3,-3.8 L-0.2,-0.1" stroke="#ef8a95" stroke-width="1.1"/><g fill="#e0475c"><circle cx="3.4" cy="-2.1" r="0.75"/><circle cx="5.15" cy="0.3" r="0.75"/><circle cx="1.45" cy="0.2" r="0.7"/><circle cx="3.3" cy="3.15" r="0.75"/></g></g></g>
<g stroke="#262a35" fill="none"><circle cx="1557.4" cy="763.0" r="3.95" stroke-width="1.15"/><line x1="1561.70" y1="763.00" x2="1564.10" y2="763.00" stroke-width="1.5"/><line x1="1560.44" y1="766.04" x2="1561.57" y2="767.17" stroke-width="1.1"/><line x1="1557.40" y1="767.30" x2="1557.40" y2="769.70" stroke-width="1.5"/><line x1="1554.36" y1="766.04" x2="1553.23" y2="767.17" stroke-width="1.1"/><line x1="1553.10" y1="763.00" x2="1550.70" y2="763.00" stroke-width="1.5"/><line x1="1554.36" y1="759.96" x2="1553.23" y2="758.83" stroke-width="1.1"/><line x1="1557.40" y1="758.70" x2="1557.40" y2="756.30" stroke-width="1.5"/><line x1="1560.44" y1="759.96" x2="1561.57" y2="758.83" stroke-width="1.1"/></g>
<rect x="0" y="0" width="1583" height="3.7" fill="#fff"/>
<rect x="0" y="2.7" width="1514.4" height="1" fill="#dcdfee"/>
<g fill="#dcdfee"><rect x="90.6" y="0" width="1" height="3"/><rect x="260.6" y="0" width="1" height="3"/><rect x="295.8" y="0" width="1" height="3"/><rect x="387.9" y="0" width="1" height="3"/><rect x="502.7" y="0" width="1" height="3"/><rect x="599.8" y="0" width="1" height="3"/><rect x="699.2" y="0" width="1" height="3"/><rect x="767.9" y="0" width="1" height="3"/><rect x="846.9" y="0" width="1" height="3"/><rect x="902.8" y="0" width="1" height="3"/><rect x="1286.9" y="0" width="1" height="3"/><rect x="1409.1" y="0" width="1" height="3"/><rect x="1444.2" y="0" width="1" height="3"/><rect x="1478.7" y="0" width="1" height="3"/></g>
<rect x="1514.4" y="0" width="68.6" height="3.0" fill="#2962ff"/>
<rect x="0" y="0" width="1.3" height="776" fill="#dcdfee"/>
<rect x="0" y="774.8" width="1583" height="1.2" fill="#dcdfee"/>
</g>
</svg></body></html>
